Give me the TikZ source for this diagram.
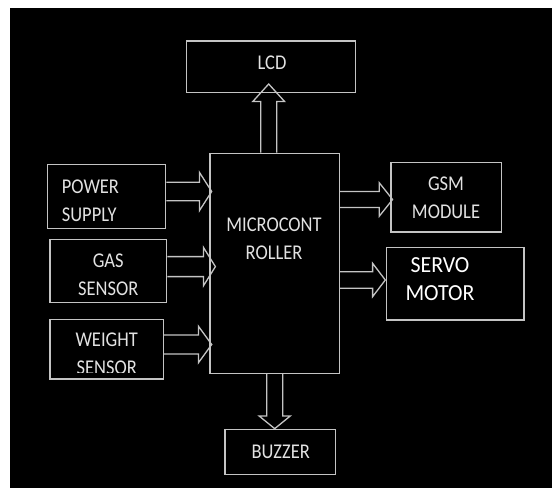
\documentclass[tikz,border=0pt]{standalone}
\usepackage{fontspec}
\setmainfont{Carlito}
\newfontfamily\lblfont{Carlito}[FakeStretch=0.88]
\newfontfamily\bigfont{Carlito}[FakeStretch=0.95]
\usetikzlibrary{calc}
\definecolor{linec}{HTML}{C4C4C4}
\definecolor{textc}{HTML}{E2E2E2}
\tikzset{
  blk/.style={draw=linec, line width=1.3pt, inner sep=0pt, rectangle},
  conn/.style={draw=linec, line width=1.3pt, line join=miter},
  lbl/.style={text=textc, inner sep=0pt, font=\lblfont\fontsize{21}{28}\selectfont},
  biglbl/.style={text=white, inner sep=0pt, font=\bigfont\fontsize{23}{28.3}\selectfont}
}
% right-pointing block arrow: #1 start anchor, #2 dy, #3 target anchor, #4 tip dx, #5 shaft half, #6 head half, #7 head length
\newcommand\rarr[7]{%
  \coordinate (S) at ($(#1)+(0,#2)$);
  \coordinate (T) at ($(#3 |- S)+(#4,0)$);
  \draw[conn] ($(S)+(0,-#5)$) -- ($(T)+(-#7,-#5)$) -- ($(T)+(-#7,-#6)$) -- (T)
     -- ($(T)+(-#7,#6)$) -- ($(T)+(-#7,#5)$) -- ($(S)+(0,#5)$);
}
% up-pointing block arrow
\newcommand\uarr[7]{%
  \coordinate (S) at ($(#1)+(#2,0)$);
  \coordinate (T) at ($(S |- #3)+(0,#4)$);
  \draw[conn] ($(S)+(-#5,0)$) -- ($(T)+(-#5,#7)$) -- ($(T)+(-#6,#7)$) -- (T)
     -- ($(T)+(#6,#7)$) -- ($(T)+(#5,#7)$) -- ($(S)+(#5,0)$);
}
% down-pointing block arrow
\newcommand\darr[7]{%
  \coordinate (S) at ($(#1)+(#2,0)$);
  \coordinate (T) at ($(S |- #3)+(0,#4)$);
  \draw[conn] ($(S)+(-#5,0)$) -- ($(T)+(-#5,-#7)$) -- ($(T)+(-#6,-#7)$) -- (T)
     -- ($(T)+(#6,-#7)$) -- ($(T)+(#5,-#7)$) -- ($(S)+(#5,0)$);
}
\begin{document}
\begin{tikzpicture}[x=1pt,y=-1pt]
\useasboundingbox (0,0) rectangle (552,488);
\fill[white] (0,0) rectangle (552,488);
\fill[black] (10,8) rectangle (552,488);

% boxes
\node[blk, minimum width=169pt, minimum height=51.3pt] (lcd) at (271.2,66.7) {};
\node[blk, minimum width=129.3pt, minimum height=220pt] (mc) at (274.7,263.3) {};
\node[blk, minimum width=118pt, minimum height=64.4pt] (ps) at (106.7,196.5) {};
\node[blk, minimum width=116.7pt, minimum height=63pt] (gas) at (108.3,270.8) {};
\node[blk, minimum width=113.3pt, minimum height=59.7pt] (wt) at (106.7,349.2) {};
\node[blk, minimum width=110.7pt, minimum height=69.3pt] (gsm) at (446.3,197.3) {};
\node[blk, minimum width=137.3pt, minimum height=72.3pt] (servo) at (455.3,283.8) {};
\node[blk, minimum width=110.7pt, minimum height=45pt] (buz) at (280.3,451.8) {};

% labels
\node[lbl] (tlcd) at (272,62.5) {LCD};
\node[lbl, align=left, anchor=west] (tps) at (61.7,200.4) {POWER\\SUPPLY};
\node[lbl, align=center] (tgas) at (108.2,274.5) {GAS\\SENSOR};
\begin{scope}
  \clip (40,300) rectangle (170,372);
  \node[lbl, align=center] (twt) at (106.7,353.8) {WEIGHT\\SENSOR};
\end{scope}
\node[lbl, align=center] (tmc) at (274,239) {MICROCONT\\ROLLER};
\node[lbl, align=center] (tgsm) at (446,197.5) {GSM\\MODULE};
\node[biglbl, align=center] (tservo) at (440,279.2) {SERVO\\MOTOR};
\node[lbl] (tbuz) at (280.7,451.7) {BUZZER};

% block arrows
\rarr{ps.east}{-5}{mc.west}{2.3}{9.3}{19.2}{12.3}
\rarr{gas.east}{-4.2}{mc.west}{6}{10}{19.3}{12}
\rarr{wt.east}{-4.7}{mc.west}{2.3}{9.5}{18.3}{13.3}
\rarr{mc.east}{-63.8}{gsm.west}{2.3}{8}{16.7}{13.3}
\rarr{mc.east}{16.7}{servo.west}{-0.7}{8.3}{16.7}{12.7}
\uarr{mc.north}{-6}{lcd.south}{-9}{8}{15.8}{17.4}
\darr{mc.south}{0}{buz.north}{0}{8}{15.5}{12.6}
\end{tikzpicture}
\end{document}
